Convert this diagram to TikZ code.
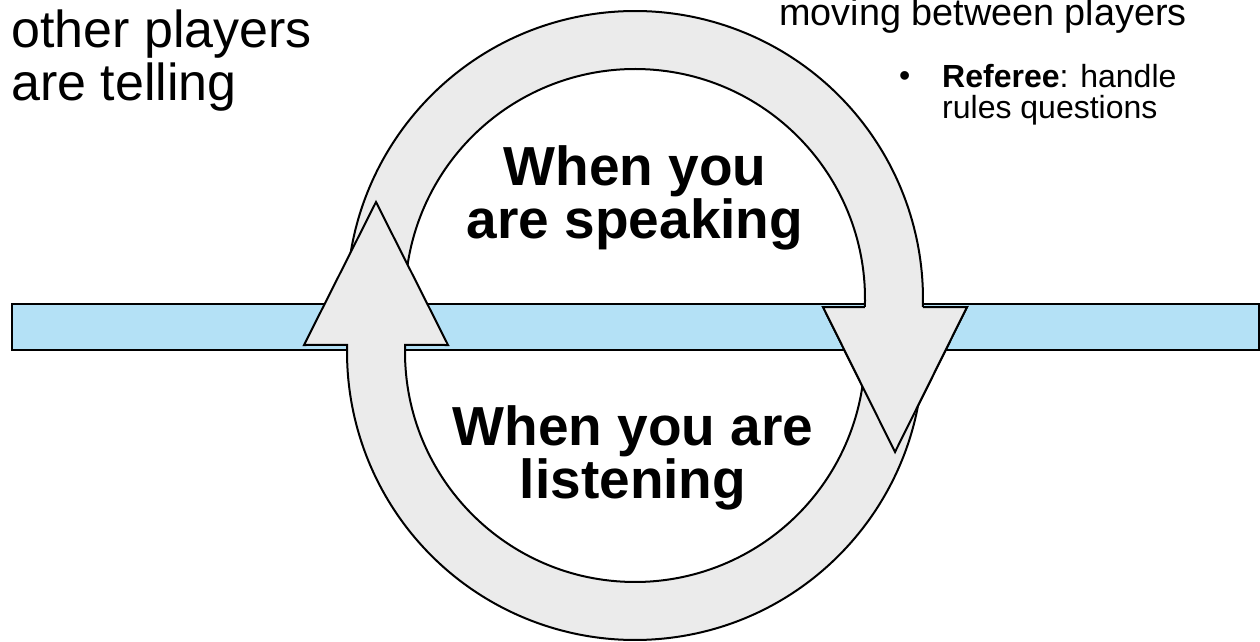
\documentclass[tikz,border=0pt]{standalone}
\usepackage{fontspec}
\setmainfont{Liberation Sans}
\usetikzlibrary{calc}
\definecolor{ringfill}{HTML}{EBEBEB}
\definecolor{barfill}{HTML}{B4E1F6}

\begin{document}
\begin{tikzpicture}[
  x=1pt, y=1pt,
  ring/.style={fill=ringfill, draw=black, line width=2pt},
  band/.style={fill=barfill, draw=black, line width=2.5pt},
  big/.style={font=\fontsize{52}{53}\selectfont, align=left, inner sep=0pt},
  mid/.style={font=\fontsize{55}{53}\selectfont\bfseries, align=center, inner sep=0pt},
  small/.style={font=\fontsize{32}{31}\selectfont, align=left, inner sep=0pt},
]
\useasboundingbox (0,0) rectangle (1260,641);

% the bar across
\path[band] (12,291) rectangle (1259,337);

\coordinate (sc) at (635,342); % centre of the speaking ring
\coordinate (lc) at (635,289); % centre of the listening ring

% speaking arrow, over the top
\draw[ring] ($(sc)+(185.2:288)$) arc[start angle=185.2, end angle=-1.6, radius=288]
  -- (967,334) -- (895,189) -- (823,334)
  -- ($(sc)+(-2:230)$) arc[start angle=-2, end angle=186.5, radius=230] -- cycle;

% listening arrow, under the bottom
\draw[ring] ($(lc)+(4.4:288)$) arc[start angle=4.4, end angle=-181.4, radius=288]
  -- (304,296) -- (376,439) -- (448,296)
  -- ($(lc)+(-181.75:230)$) arc[start angle=-181.75, end angle=5.5, radius=230] -- cycle;

% head of the speaking arrow again, on top
\path[ring] ($(sc)+(-2:230)$) -- (823,334) -- (895,189) -- (967,334) -- ($(sc)+(-1.6:288)$);

\node[mid, anchor=north] (speak) at (635,496) {When you\\are speaking};
\node[mid, anchor=north] (listen) at (633,236) {When you are\\listening};

\node[big, anchor=north west] (tell) at (11,631) {other players\\are telling};

\node[small, anchor=base west, font=\fontsize{37.8}{31}\selectfont] (move) at (779,615) {moving between players};
\node[small, anchor=base west] (dot) at (899,554) {\textbullet};
\node[small, anchor=north west] (ref) at (942,577) {\textbf{Referee}: handle\\rules questions};
\end{tikzpicture}
\end{document}
